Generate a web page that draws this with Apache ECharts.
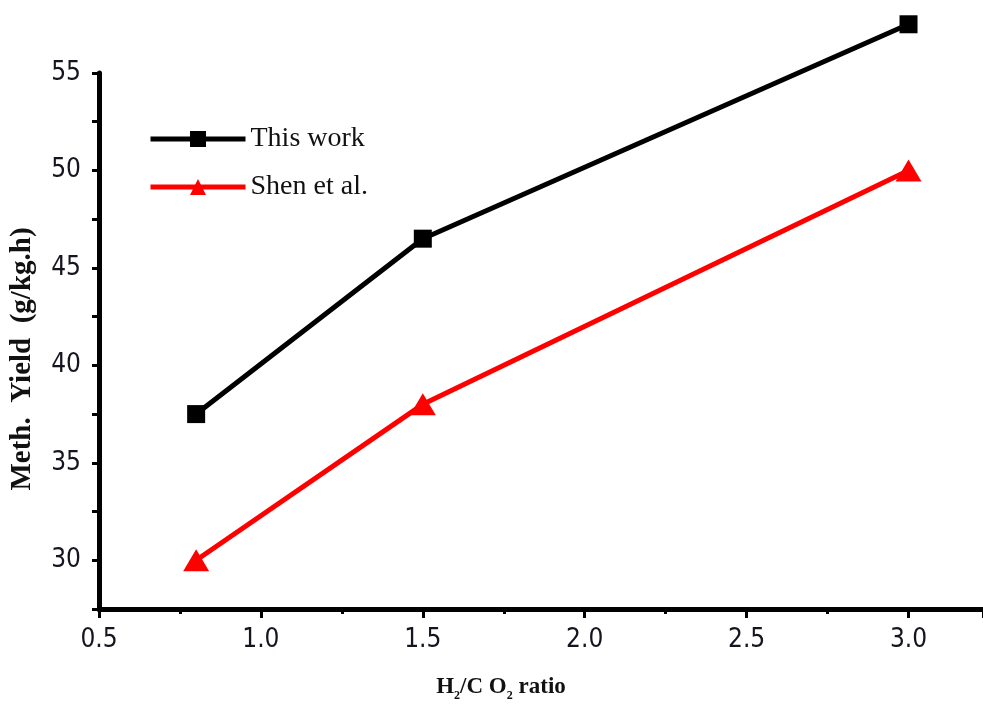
<!DOCTYPE html>
<html>
<head>
<meta charset="utf-8">
<script src="https://cdn.jsdelivr.net/npm/echarts@6/dist/echarts.min.js"></script>
<style>
  html, body { margin: 0; padding: 0; background: #fff; }
  #chart { width: 983px; height: 707px; }
</style>
</head>
<body>
<div id="chart"></div>
<script>
// 数据
const ratios = [0.8, 1.5, 3.0];
const thisWork = [37.5, 46.5, 57.5];
const shenEtAl = [30.0, 38.0, 50.0];
const seriesNames = ['This work', 'Shen et al.'];

const tickFont = 'Liberation Sans Narrow, DejaVu Sans Condensed, Arial, sans-serif';
const serif = 'Liberation Serif, Times New Roman, serif';

const chart = echarts.init(document.getElementById('chart'));

const pairs = (ys) => ratios.map((x, i) => [x, ys[i]]);

const option = {
  animation: false,
  grid: {
    left: 97,
    top: 73,
    right: 0,
    bottom: 95
  },
  legend: {
    orient: 'vertical',
    left: 143,
    top: 120,
    itemWidth: 95,
    itemHeight: 20,
    itemGap: 20,
    lineStyle: { width: 5 },
    textStyle: {
      fontFamily: serif,
      fontSize: 28,
      color: '#111'
    },
    data: seriesNames
  },
  xAxis: {
    type: 'value',
    min: 0.5,
    max: 3.23,
    interval: 0.5,
    name: 'H{sub|2}/C O{sub|2} ratio',
    nameLocation: 'middle',
    nameGap: 63,
    nameTextStyle: {
      fontFamily: serif,
      fontWeight: 'bold',
      fontSize: 23,
      color: '#111',
      padding: [0, 80, 0, 0],
      rich: {
        sub: {
          fontFamily: serif,
          fontWeight: 'bold',
          fontSize: 12,
          color: '#111',
          padding: [18, 0, 0, 0]
        }
      }
    },
    axisLine: { lineStyle: { color: '#000', width: 5 } },
    axisTick: { length: 9, lineStyle: { color: '#000', width: 3 } },
    minorTick: { show: true, splitNumber: 2, length: 5, lineStyle: { color: '#000', width: 3 } },
    splitLine: { show: false },
    axisLabel: {
      margin: 18,
      fontFamily: tickFont,
      fontSize: 26,
      color: '#151520',
      showMaxLabel: false,
      formatter: (v) => (Math.abs(v * 2 - Math.round(v * 2)) < 1e-6 ? v.toFixed(1) : '')
    }
  },
  yAxis: {
    type: 'value',
    min: 27.5,
    max: 55,
    interval: 2.5,
    name: 'Meth.  Yield  (g/kg.h)',
    nameLocation: 'middle',
    nameGap: 62,
    nameTextStyle: {
      fontFamily: serif,
      fontWeight: 'bold',
      fontSize: 29,
      color: '#111',
      padding: [0, 36, 0, 0]
    },
    axisLine: { show: true, lineStyle: { color: '#000', width: 5 } },
    axisTick: { show: true, length: 7, lineStyle: { color: '#000', width: 3 } },
    splitLine: { show: false },
    axisLabel: {
      margin: 18,
      fontFamily: tickFont,
      fontSize: 26,
      color: '#151520',
      formatter: (v) => (v % 5 === 0 ? String(v) : '')
    }
  },
  series: [
    {
      name: seriesNames[0],
      type: 'line',
      data: pairs(thisWork),
      clip: false,
      symbol: 'rect',
      symbolSize: 18,
      lineStyle: { color: '#000', width: 5 },
      itemStyle: { color: '#000' }
    },
    {
      name: seriesNames[1],
      type: 'line',
      data: pairs(shenEtAl),
      clip: false,
      symbol: 'triangle',
      symbolSize: [26, 22],
      lineStyle: { color: '#ff0000', width: 5 },
      itemStyle: { color: '#ff0000' }
    }
  ]
};

chart.setOption(option);
</script>
</body>
</html>
